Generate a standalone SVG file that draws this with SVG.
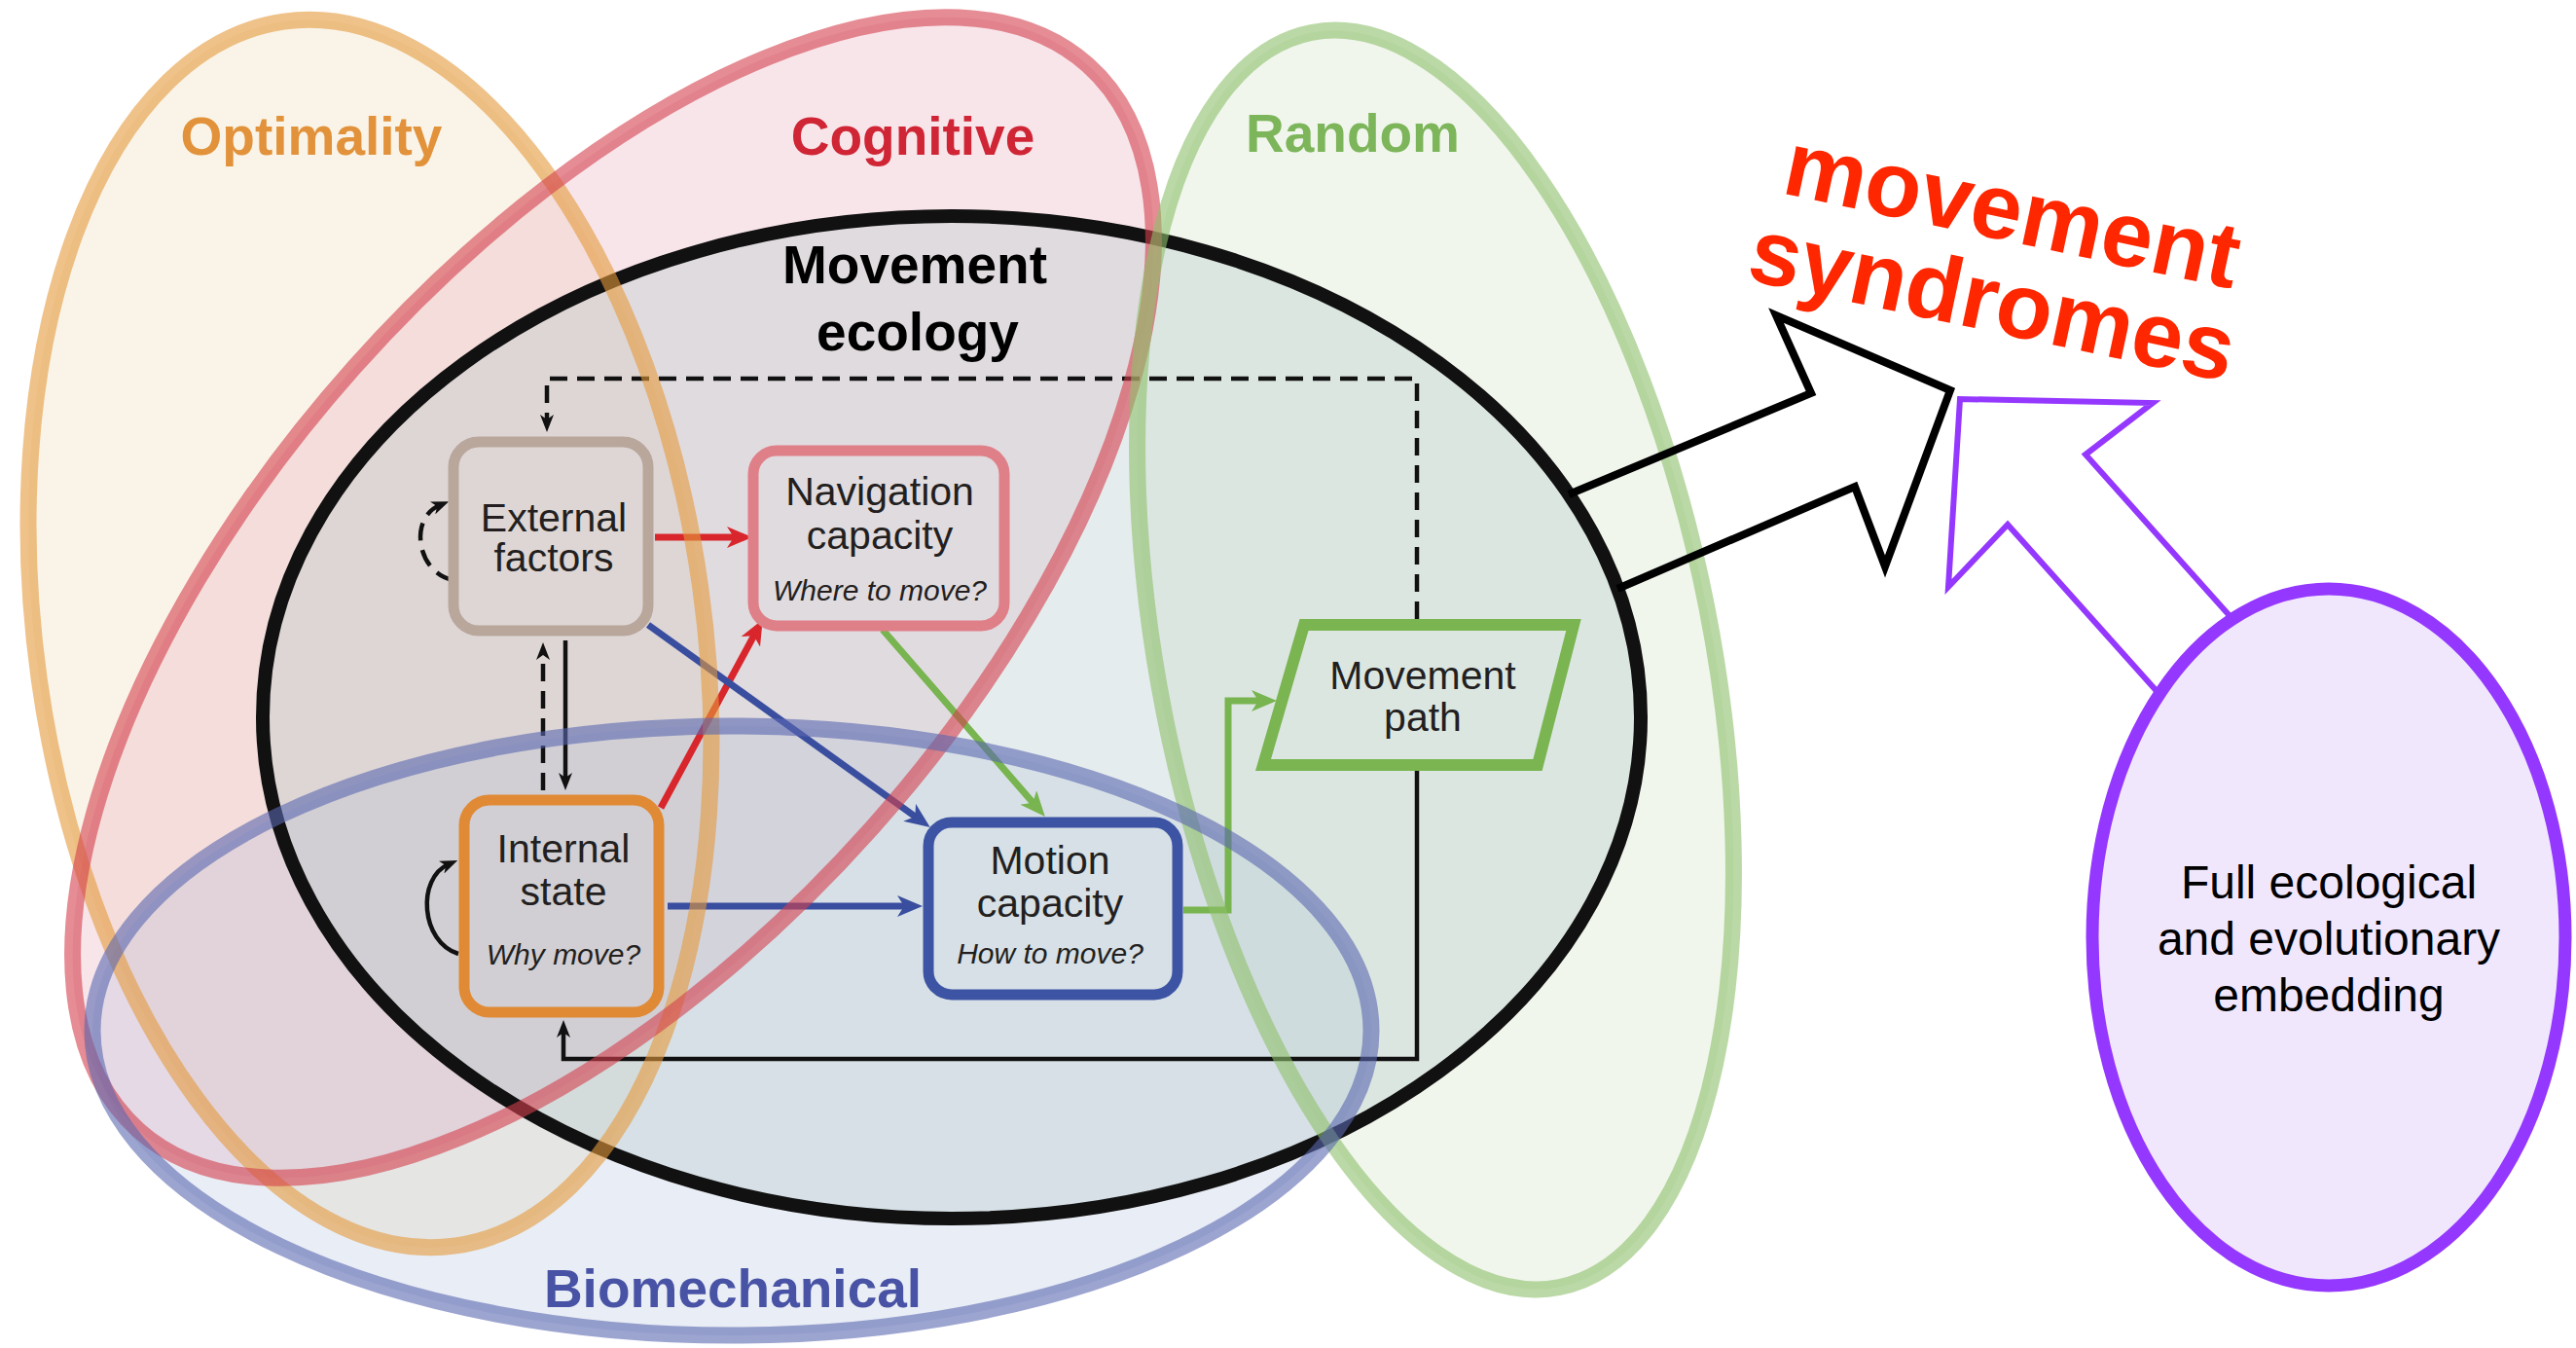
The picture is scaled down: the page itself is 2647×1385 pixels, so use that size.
<svg xmlns="http://www.w3.org/2000/svg" width="2647" height="1385" viewBox="0 0 2647 1385">
  <defs>
    <style>
      .lbl { font-family: "Liberation Sans", Arial, sans-serif; font-weight: bold; font-size: 55px; text-anchor: middle; }
      .nt { font-family: "Liberation Sans", Arial, sans-serif; font-size: 41px; fill: #231f20; text-anchor: middle; }
      .q { font-family: "Liberation Sans", Arial, sans-serif; font-size: 30px; font-style: italic; fill: #231f20; text-anchor: middle; }
      .box { fill: none; stroke-width: 11; }
      .ring { fill: none; stroke-width: 17; stroke-opacity: 0.6; }
      .k { fill: none; stroke: #111; stroke-width: 4.5; }
      .dash { stroke-dasharray: 18 10; }
      .c-red { fill: none; stroke: #d8262c; stroke-width: 7; }
      .c-blue { fill: none; stroke: #3a4e9f; stroke-width: 7; }
      .c-green { fill: none; stroke: #78b44f; stroke-width: 7; }
      .big { font-family: "Liberation Sans", Arial, sans-serif; font-weight: bold; font-size: 95px; fill: #ff2700; }
      .emb { font-family: "Liberation Sans", Arial, sans-serif; font-size: 48px; fill: #000; text-anchor: middle; }
    </style>
    <marker id="ah-red" viewBox="0 0 26 22" markerWidth="26" markerHeight="22" refX="14" refY="11" orient="auto" markerUnits="userSpaceOnUse">
      <path d="M0,0 L26,11 L0,22 L7,11 Z" fill="#d8262c"/>
    </marker>
    <marker id="ah-blue" viewBox="0 0 26 22" markerWidth="26" markerHeight="22" refX="14" refY="11" orient="auto" markerUnits="userSpaceOnUse">
      <path d="M0,0 L26,11 L0,22 L7,11 Z" fill="#3a4e9f"/>
    </marker>
    <marker id="ah-green" viewBox="0 0 26 22" markerWidth="26" markerHeight="22" refX="14" refY="11" orient="auto" markerUnits="userSpaceOnUse">
      <path d="M0,0 L26,11 L0,22 L7,11 Z" fill="#78b44f"/>
    </marker>
    <marker id="ah-k" viewBox="0 0 18 14" markerWidth="18" markerHeight="14" refX="8" refY="7" orient="auto" markerUnits="userSpaceOnUse">
      <path d="M0,0 L18,7 L0,14 L5,7 Z" fill="#111"/>
    </marker>
    <!-- region outlines, reused for the tinted fills and the strokes -->
    <ellipse id="shape-opt" cx="380" cy="651" rx="343" ry="635" transform="rotate(-8 380 651)"/>
    <ellipse id="shape-cog" cx="630" cy="614" rx="733" ry="356" transform="rotate(-48.3 630 614)"/>
    <ellipse id="shape-rnd" cx="1475" cy="678" rx="284" ry="657" transform="rotate(-11.2 1475 678)"/>
    <ellipse id="shape-bio" cx="752" cy="1059" rx="657" ry="313"/>
  </defs>

  <rect width="2647" height="1385" fill="#fff"/>

  <!-- translucent region fills -->
  <g id="region-fills">
    <use href="#shape-opt" fill="#f3e3c6" fill-opacity="0.4"/>
    <use href="#shape-cog" fill="#e8a8b8" fill-opacity="0.3"/>
    <use href="#shape-rnd" fill="#c8ddb8" fill-opacity="0.25"/>
    <use href="#shape-bio" fill="#a8b8d8" fill-opacity="0.25"/>
  </g>

  <!-- movement ecology frame -->
  <g id="movement-ecology">
    <ellipse cx="978" cy="737" rx="708" ry="515" fill="#b5c8cc" fill-opacity="0.35" stroke="#111" stroke-width="14"/>
    <text class="lbl" x="940" y="291" fill="#000">Movement</text>
    <text class="lbl" x="943" y="360" fill="#000">ecology</text>
  </g>

  <!-- connectors -->
  <g id="connectors">
    <path class="k dash" d="M1456,636 V389 H562 V434" marker-end="url(#ah-k)"/>
    <path class="k dash" d="M558,812 V670" marker-end="url(#ah-k)"/>
    <path class="k" d="M581,658 V802" marker-end="url(#ah-k)"/>
    <path class="k" d="M1456,792 V1088 H579 V1058" marker-end="url(#ah-k)"/>
    <path class="k dash" d="M465,596 C428,588 420,532 452,519" stroke-dasharray="12 9" marker-end="url(#ah-k)"/>
    <path class="k" d="M471,980 C432,968 428,902 461,888" marker-end="url(#ah-k)"/>
    <path class="c-red" d="M673,552 H761" marker-end="url(#ah-red)"/>
    <path class="c-red" d="M679,830 L778,647" marker-end="url(#ah-red)"/>
    <path class="c-blue" d="M666,642 L946,843" marker-end="url(#ah-blue)"/>
    <path class="c-blue" d="M686,931 H936" marker-end="url(#ah-blue)"/>
    <path class="c-green" d="M907,647 L1066,830" marker-end="url(#ah-green)"/>
    <path class="c-green" d="M1216,935 H1262 V720 H1300" stroke-width="8.5" marker-end="url(#ah-green)"/>
  </g>

  <!-- nodes -->
  <g id="external-factors">
    <rect class="box" x="466" y="454" width="200" height="194" rx="26" stroke="#b9a79c"/>
    <text class="nt" x="569" y="546">External</text>
    <text class="nt" x="569" y="587">factors</text>
  </g>
  <g id="navigation-capacity">
    <rect class="box" x="774" y="463" width="258" height="180" rx="24" stroke="#df7f88"/>
    <text class="nt" x="904" y="519" font-size="39">Navigation</text>
    <text class="nt" x="904" y="564" font-size="39">capacity</text>
    <text class="q" x="904" y="617">Where to move?</text>
  </g>
  <g id="internal-state">
    <rect class="box" x="477" y="822" width="200" height="218" rx="26" stroke="#e08a35"/>
    <text class="nt" x="579" y="886">Internal</text>
    <text class="nt" x="579" y="930">state</text>
    <text class="q" x="579" y="991">Why move?</text>
  </g>
  <g id="motion-capacity">
    <rect class="box" x="954" y="845" width="256" height="177" rx="24" stroke="#3d54a4"/>
    <text class="nt" x="1079" y="898">Motion</text>
    <text class="nt" x="1079" y="942">capacity</text>
    <text class="q" x="1079" y="990">How to move?</text>
  </g>
  <g id="movement-path">
    <polygon points="1340,642 1617,642 1580,786 1298,786" fill="none" stroke="#7ab552" stroke-width="12"/>
    <text class="nt" x="1462" y="708">Movement</text>
    <text class="nt" x="1462" y="751">path</text>
  </g>

  <!-- research-approach regions: outlines and labels -->
  <g id="optimality">
    <use href="#shape-opt" class="ring" stroke="#e59a3c"/>
    <text class="lbl" x="320" y="159" fill="#e2923a">Optimality</text>
  </g>
  <g id="cognitive">
    <use href="#shape-cog" class="ring" stroke="#d33f4c"/>
    <text class="lbl" x="938" y="159" fill="#cf2535">Cognitive</text>
  </g>
  <g id="random">
    <use href="#shape-rnd" class="ring" stroke="#8dc06a" stroke-width="16"/>
    <text class="lbl" x="1390" y="156" fill="#7db55a">Random</text>
  </g>
  <g id="biomechanical">
    <use href="#shape-bio" class="ring" stroke="#5a68b0" stroke-width="16" stroke-opacity="0.55"/>
    <text class="lbl" x="753" y="1343" fill="#4853a5">Biomechanical</text>
  </g>

  <!-- outgoing and incoming block arrows -->
  <g id="syndrome-arrows">
    <polyline points="1612,508 1861,404 1825,324 2004,401 1937,582 1906,500 1662,605" fill="none" stroke="#000" stroke-width="8" stroke-linejoin="miter"/>
    <polyline points="2250,748 2063,539 2002,603 2014,410 2212,414 2143,467 2320,665" fill="none" stroke="#9538ff" stroke-width="6" stroke-linejoin="miter"/>
  </g>

  <g id="embedding">
    <ellipse cx="2393" cy="963" rx="243" ry="358" fill="#f0e7fd" stroke="#9538ff" stroke-width="13"/>
    <text class="emb" x="2393" y="923">Full ecological</text>
    <text class="emb" x="2393" y="981">and evolutionary</text>
    <text class="emb" x="2393" y="1039">embedding</text>
  </g>

  <g id="movement-syndromes">
    <text class="big" x="1829" y="198" transform="rotate(12 1829 198)">movement</text>
    <text class="big" x="1793" y="287" transform="rotate(12 1793 287)">syndromes</text>
  </g>
</svg>
